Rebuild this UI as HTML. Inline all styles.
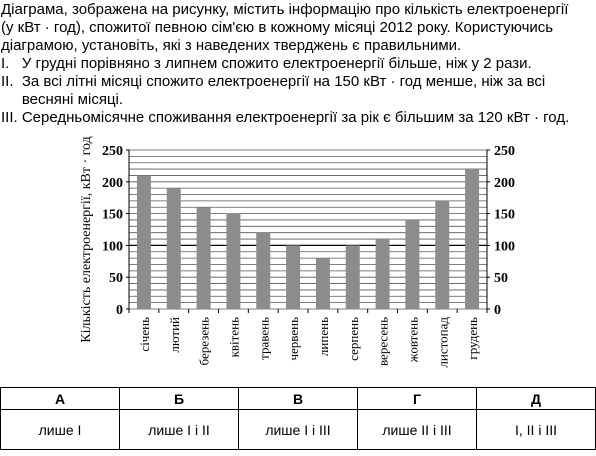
<!DOCTYPE html>
<html><head><meta charset="utf-8"><style>
body{margin:0;width:596px;height:456px;background:#fff;font-family:"Liberation Sans",Arial,sans-serif;overflow:hidden;position:relative}
.t{position:absolute;left:1px;font-size:15px;line-height:18px;color:#000;white-space:nowrap}
table{position:absolute;left:0;top:387px;width:596px;border-collapse:collapse;font-size:14px;table-layout:fixed}
td{border:1px solid #000;text-align:center;padding:0}
</style></head><body>
<div class="t" style="top:1px">Діаграма, зображена на рисунку, містить інформацію про кількість електроенергії<br>(у кВт · год), спожитої певною сім'єю в кожному місяці 2012 року. Користуючись<br>діаграмою, установіть, які з наведених тверджень є правильними.</div>
<div class="t" style="top:55px">I.&nbsp;&nbsp;&nbsp;У грудні порівняно з липнем спожито електроенергії більше, ніж у 2 рази.</div>
<div class="t" style="top:73px">II.&nbsp;&nbsp;За всі літні місяці спожито електроенергії на 150 кВт · год менше, ніж за всі<br>&nbsp;&nbsp;&nbsp;&nbsp;&nbsp;весняні місяці.</div>
<div class="t" style="top:109px">III. Середньомісячне споживання електроенергії за рік є більшим за 120 кВт · год.</div>
<svg id="chart" width="596" height="380" style="position:absolute;left:0;top:0"></svg>
<table>
<tr style="height:22px;font-weight:bold"><td>А</td><td>Б</td><td>В</td><td>Г</td><td>Д</td></tr>
<tr style="height:40px"><td>лише I</td><td>лише I і II</td><td>лише I і III</td><td>лише II і III</td><td>I, II і III</td></tr>
</table>
<script>
const months=["січень","лютий","березень","квітень","травень","червень","липень","серпень","вересень","жовтень","листопад","грудень"];
const values=[210,190,160,150,120,100,80,100,110,140,170,220];
const ticks=[0,50,100,150,200,250];
const svg=document.getElementById('chart');
const NS='http://www.w3.org/2000/svg';
const X0=129,X1=487,Y0=309,Y1=150,MAX=250;
const y=v=>Y0-(v/MAX)*(Y0-Y1);
const slot=(X1-X0)/months.length;
const x=i=>X0+slot*i+slot/2;
function el(t,a){const e=document.createElementNS(NS,t);for(const k in a)e.setAttribute(k,a[k]);svg.appendChild(e);return e;}
for(let v=0;v<=MAX;v+=10){const g=el('line',{x1:X0,x2:X1,y1:y(v),y2:y(v),stroke:v===100?'#000':'#555','stroke-width':v===100?1.2:0.8});

}
el('line',{x1:X0,x2:X0,y1:Y1,y2:Y0+4,stroke:'#000'});
el('line',{x1:X1,x2:X1,y1:Y1,y2:Y0+4,stroke:'#000'});
ticks.forEach(v=>{
const l=el('text',{x:X0-6,y:y(v)+5,'text-anchor':'end','font-size':14,'font-weight':'bold','font-family':'Liberation Serif,serif'});l.textContent=v;


const r=el('text',{x:X1+7,y:y(v)+5,'font-size':14,'font-weight':'bold','font-family':'Liberation Serif,serif'});r.textContent=v;


el('line',{x1:X0-3,x2:X0,y1:y(v),y2:y(v),stroke:'#000'});el('line',{x1:X1,x2:X1+3,y1:y(v),y2:y(v),stroke:'#000'});
});
months.forEach((m,i)=>{
const b=el('rect',{x:x(i)-7,y:y(values[i]),width:14,height:Y0-y(values[i]),fill:'#8c8c8c'});


el('line',{x1:X0+slot*(i+1),x2:X0+slot*(i+1),y1:Y0,y2:Y0+4,stroke:'#000'});
const t=el('text',{transform:`translate(${x(i)+5},${Y0+8}) rotate(-90)`,'text-anchor':'end','font-size':13,'font-family':'Liberation Serif,serif'});t.textContent=m;


});
const yt=el('text',{transform:`translate(90,${(Y0+Y1)/2+10}) rotate(-90)`,'text-anchor':'middle','font-size':14,'font-family':'Liberation Serif,serif'});
yt.textContent='Кількість електроенергії, кВт · год';


</script>
</body></html>
